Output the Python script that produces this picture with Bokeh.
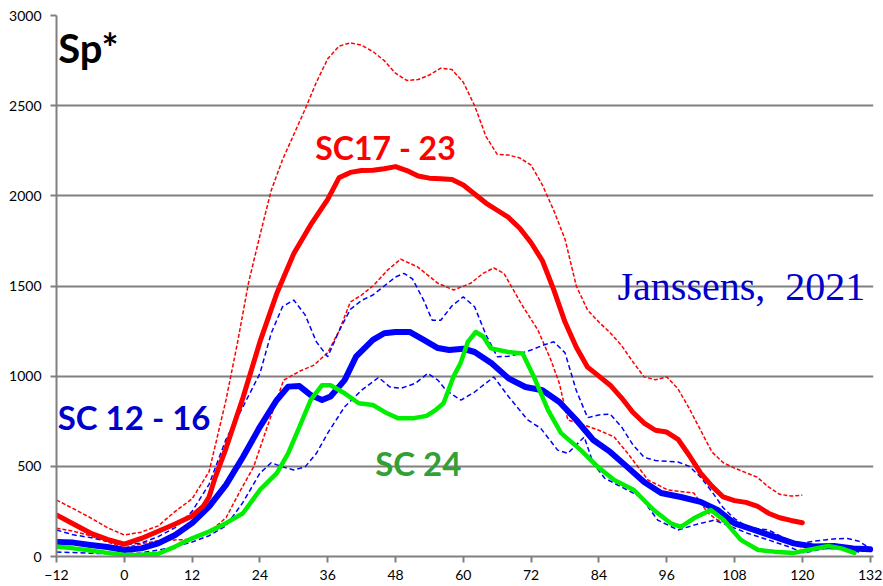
from bokeh.plotting import figure
from bokeh.models import Range1d, FixedTicker, Label
from bokeh.embed import file_html
from bokeh.resources import INLINE

# ---------------- data ----------------
x_ticks = [-12, 0, 12, 24, 36, 48, 60, 72, 84, 96, 108, 120, 132]
y_ticks = [0, 500, 1000, 1500, 2000, 2500, 3000]

# SC17-23 mean (red thick)
sc17_23_x = [-12, -9, -6, -3, 0, 3, 6, 9, 12, 14, 15, 16, 18, 21, 24, 27, 30, 33, 36, 38, 40, 42, 44, 46,
             48, 50, 52, 54, 56, 58, 60, 62, 64, 66, 68, 70, 72, 74, 76, 78, 80, 82, 84, 86, 88, 90, 92,
             94, 96, 98, 100, 102, 104, 106, 108, 110, 112, 114, 116, 118, 120]
sc17_23_mean = [230, 180, 130, 95, 68, 100, 140, 180, 225, 280, 330, 430, 600, 880, 1190, 1460, 1680, 1840,
                1980, 2100, 2130, 2140, 2142, 2150, 2162, 2140, 2110, 2098, 2095, 2090, 2060, 2010, 1960,
                1920, 1880, 1820, 1740, 1640, 1480, 1300, 1160, 1050, 1000, 950, 880, 800, 740, 700, 690,
                650, 560, 462, 390, 330, 310, 300, 280, 240, 215, 200, 187]

# SC17-23 upper envelope (red dashed)
sc17_23_hi_x = [-12, -9, -6, -3, 0, 3, 6, 9, 12, 15, 18, 20, 22, 24, 26, 28, 30, 32, 34, 36, 38, 40, 42,
                44, 46, 48, 50, 52, 54, 56, 58, 60, 62, 64, 66, 68, 70, 72, 74, 76, 78, 80, 82, 84, 86,
                88, 90, 92, 94, 96, 98, 100, 102, 104, 106, 108, 110, 112, 114, 116, 118, 120]
sc17_23_hi = [313, 265, 215, 160, 119, 135, 170, 250, 320, 470, 868, 1180, 1520, 1780, 2030, 2200, 2340,
              2480, 2630, 2760, 2830, 2848, 2835, 2800, 2750, 2680, 2640, 2645, 2670, 2708, 2700, 2630,
              2500, 2330, 2230, 2226, 2210, 2170, 2060, 1920, 1760, 1500, 1366, 1300, 1240, 1170, 1080,
              996, 980, 996, 930, 820, 700, 580, 520, 490, 465, 440, 386, 345, 335, 340]

# SC17-23 lower envelope (red dashed)
sc17_23_lo_x = [-12, -9, -6, -3, 0, 3, 6, 9, 12, 15, 18, 20.6, 22.9, 25.3, 28.2, 31.2, 33.5, 36, 38, 40,
                42, 44, 46.6, 48.9, 51.9, 55.5, 58.3, 61.3, 63.5, 65.4, 67.2, 70.2, 73.2, 75.5, 77, 78.5,
                81.4, 84, 86.7, 89.1, 92.7, 96.2, 100.8, 103.3, 105, 109.1, 112.7, 116.8, 119.8]
sc17_23_lo = [157, 140, 115, 81, 47, 70, 88, 92, 95, 135, 215, 369, 498, 719, 978, 1030, 1060, 1130, 1250,
              1411, 1450, 1500, 1588, 1649, 1606, 1515, 1478, 1515, 1570, 1600, 1570, 1404, 1256, 1090,
              960, 757, 729, 700, 663, 572, 424, 369, 352, 241, 202, 164, 147, 92, 47]

# SC 12-16 mean (blue thick)
sc12_16_x = [-12, -9, -6, -3, 0, 3, 6, 9, 12, 15, 18, 21, 24, 27, 29, 31, 33, 35, 36.5, 39, 41, 44, 46,
             48, 50.5, 53, 55.5, 57.5, 60, 62, 65, 68, 71, 74, 77, 80, 83, 86, 89, 92, 95, 98.5, 102,
             105, 108, 111.5, 115, 118.5, 122, 125.6, 129, 132]
sc12_16_mean = [81, 77, 64, 53, 36, 45, 73, 119, 185, 277, 397, 552, 719, 868, 942, 945, 895, 868, 887,
                978, 1108, 1201, 1238, 1245, 1245, 1201, 1156, 1145, 1152, 1134, 1071, 988, 940, 922, 857,
                757, 646, 580, 497, 413, 352, 330, 303, 258, 184, 147, 110, 73, 55, 58, 45, 40]

# SC 12-16 upper envelope (blue dashed)
sc12_16_hi_x = [-12, -9, -6, -3, 0, 3, 6, 9, 12, 15, 18, 21, 24, 26, 28, 30, 32, 34, 36, 38, 40, 42, 44,
                46, 48, 49.5, 51, 53, 54.5, 56, 58, 60, 62, 64, 66, 68, 70, 72, 74, 76, 78, 80, 82, 84,
                86, 88, 90, 92, 94, 96, 98, 100, 102, 104, 106, 108, 110, 112, 114, 116, 118, 120, 122,
                124, 126, 128, 130, 132]
sc12_16_hi = [147, 120, 105, 85, 64, 75, 110, 160, 250, 400, 650, 830, 1015, 1238, 1385, 1422, 1340, 1190,
              1108, 1250, 1370, 1420, 1450, 1500, 1550, 1570, 1540, 1420, 1310, 1310, 1390, 1440, 1385,
              1230, 1108, 1110, 1125, 1145, 1170, 1191, 1130, 920, 770, 785, 790, 719, 620, 550, 532,
              528, 524, 500, 440, 360, 270, 210, 170, 155, 147, 115, 85, 75, 85, 92, 98, 100, 85, 45]

# SC 12-16 lower envelope (blue dashed)
sc12_16_lo_x = [-12, -9, -6, -3, 0, 3, 6, 9, 12, 15, 18, 21, 24, 26, 28, 30, 32, 34, 36, 39, 42, 45, 47,
                49, 51.5, 53.7, 55.5, 57, 59.6, 62, 65.4, 68, 71.4, 73.7, 76.7, 78.5, 81.4, 83, 85, 89,
                91.4, 94.4, 98, 100.8, 104.4, 107.4, 110.4, 114, 117.5, 120.3, 124, 127, 130, 132]
sc12_16_lo = [25, 22, 18, 16, 15, 20, 36, 55, 80, 115, 170, 300, 462, 520, 497, 480, 497, 572, 684, 830,
              922, 993, 940, 933, 960, 1015, 978, 920, 867, 912, 996, 887, 757, 711, 590, 572, 663, 515,
              435, 369, 331, 202, 147, 174, 202, 165, 128, 92, 55, 20, 45, 45, 25, 40]

# SC 24 (green)
sc24_x = [-12, -9, -6, -3, 0, 3, 6, 9, 12, 15, 18, 21, 24, 27, 29, 31, 33, 35, 36.5, 39, 41.5, 44, 46.5,
          48.5, 51, 53.5, 55, 56.5, 58.3, 59.5, 60.8, 62.2, 63.5, 64.9, 67.9, 70.5, 72.5, 75, 77.3, 80.8,
          83.8, 86.7, 90.2, 93.7, 96.7, 98.5, 100.8, 103.8, 106.1, 109.1, 112.2, 115, 118.5, 121, 124.6,
          126.9, 129.2]
sc24 = [55, 45, 33, 20, 9, 10, 15, 55, 101, 138, 185, 240, 369, 462, 572, 719, 868, 950, 950, 905, 850,
        840, 794, 766, 766, 780, 810, 850, 1000, 1071, 1190, 1245, 1220, 1154, 1134, 1126, 996, 812, 684,
        590, 497, 424, 369, 258, 184, 164, 212, 258, 202, 92, 36, 27, 20, 36, 58, 45, 20]

label_texts = ["Sp*", "SC17 - 23", "SC 12 - 16", "SC 24", "Janssens,\u00a0 2021"]

# ---------------- figure ----------------
p = figure(width=883, height=586, output_backend="svg", toolbar_location=None,
           x_range=Range1d(-12, 132.6), y_range=Range1d(0, 3000),
           min_border_left=56, min_border_right=10, min_border_top=15, min_border_bottom=30,
           background_fill_color="white", border_fill_color="white")
p.outline_line_color = None

p.xgrid.grid_line_color = None
p.ygrid.grid_line_color = "#808080"
p.ygrid.grid_line_width = 2
p.ygrid.ticker = FixedTicker(ticks=y_ticks)

p.xaxis.ticker = FixedTicker(ticks=x_ticks)
p.yaxis.ticker = FixedTicker(ticks=y_ticks)
for ax in (p.xaxis, p.yaxis):
    ax.axis_line_color = "#808080"
    ax.axis_line_width = 2
    ax.major_tick_line_color = "#808080"
    ax.major_tick_line_width = 2
    ax.major_tick_out = 6
    ax.major_tick_in = 0
    ax.minor_tick_line_color = None
    ax.major_label_text_font = "Lato"
    ax.major_label_text_font_size = "14px"
    ax.major_label_text_color = "black"
p.xaxis.major_label_standoff = 7
p.yaxis.major_label_standoff = 9

RED = "#FF0000"
BLUE = "#0000FF"
GREEN = "#00EE00"

p.line(sc17_23_hi_x, sc17_23_hi, line_color=RED, line_width=1.5, line_dash="4 2")
p.line(sc17_23_lo_x, sc17_23_lo, line_color=RED, line_width=1.5, line_dash="4 2")
p.line(sc12_16_hi_x, sc12_16_hi, line_color=BLUE, line_width=1.5, line_dash="5 3")
p.line(sc12_16_lo_x, sc12_16_lo, line_color=BLUE, line_width=1.5, line_dash="5 3")
p.line(sc12_16_x, sc12_16_mean, line_color=BLUE, line_width=6, line_join="round", line_cap="round")
p.line(sc17_23_x, sc17_23_mean, line_color=RED, line_width=5, line_join="round", line_cap="round")
p.line(sc24_x, sc24, line_color=GREEN, line_width=4.5, line_join="round", line_cap="round")

p.add_layout(Label(x=-11.7, y=2820, text=label_texts[0], text_font="Lato", text_font_size="40px",
                   text_font_style="bold", text_color="black", text_baseline="alphabetic"))
p.add_layout(Label(x=33.8, y=2270, text=label_texts[1], text_font="Lato", text_font_size="32px",
                   text_font_style="bold", text_color="#FF0000", text_baseline="alphabetic"))
p.add_layout(Label(x=-11.8, y=772, text=label_texts[2], text_font="Lato", text_font_size="33px",
                   text_font_style="bold", text_color="#0000CC", text_baseline="alphabetic"))
p.add_layout(Label(x=44.4, y=518, text=label_texts[3], text_font="Lato", text_font_size="33px",
                   text_font_style="bold", text_color="#33A033", text_baseline="alphabetic"))
p.add_layout(Label(x=87.3, y=1500, text=label_texts[4], text_font="Liberation Serif", text_font_size="40px",
                   text_color="#0000CC", text_baseline="alphabetic"))

open("out.html", "w").write(file_html(p, INLINE))
